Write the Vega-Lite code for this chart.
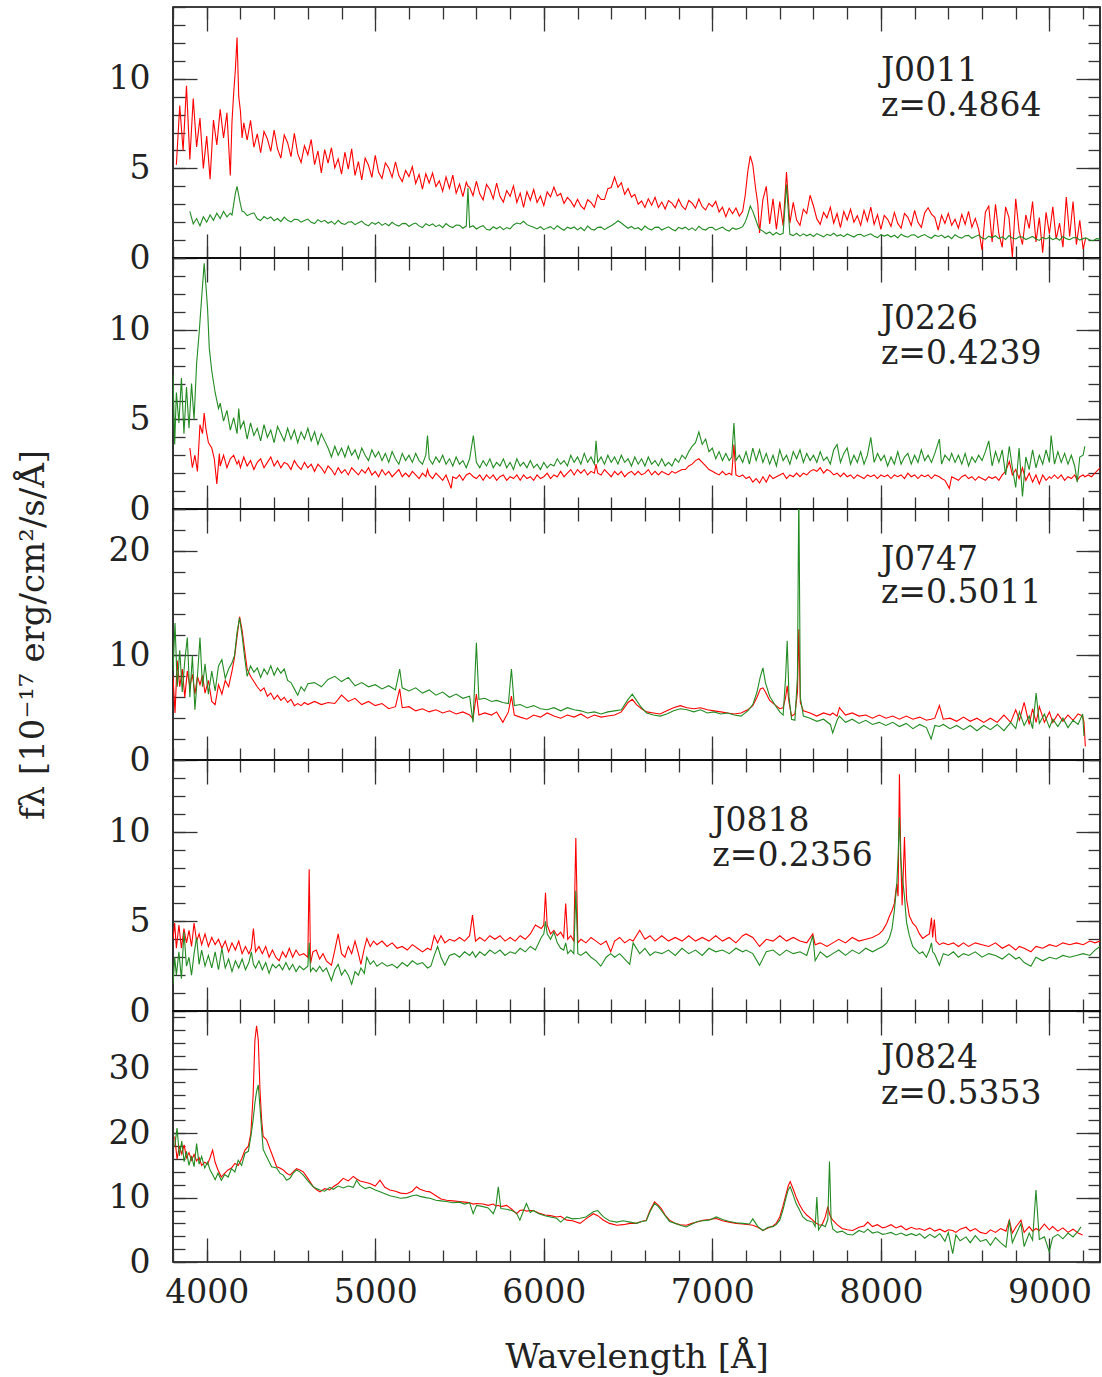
{
"$schema":"https://vega.github.io/schema/vega-lite/v6.json",
"background":"white",
"padding":{"left":15,"top":5,"right":2,"bottom":0},
"bounds":"flush",
"spacing":0,
"config":{
 "view":{"stroke":"#000","strokeWidth":1.6},
 "font":"DejaVu Serif",
 "axis":{"grid":false,"domain":false,"labelFont":"DejaVu Serif","labelFontSize":33,"labelColor":"#222","labelFlush":false,"labelOverlap":false,"tickColor":"#333","tickWidth":1.3,"titleFont":"DejaVu Serif","titleFontWeight":"normal","titleFontSize":34,"titleColor":"#222","format":"d"},
 "text":{"font":"DejaVu Serif","fontSize":33,"color":"#222","align":"left","baseline":"middle","lineHeight":35}
},
"datasets":{
"p1":[
{"w":3820,"r":5.2},{"w":3840,"r":8.5},{"w":3860,"r":6.0},{"w":3880,"r":9.6},{"w":3900,"r":5.5,"g":2.6},{"w":3920,"r":8.9,"g":1.9},{"w":3940,"r":6.2,"g":2.2},{"w":3960,"r":7.8,"g":1.8},{"w":3980,"r":5.0,"g":2.3},{"w":4000,"r":6.8,"g":2.0},{"w":4020,"r":4.4,"g":2.4},{"w":4040,"r":7.7,"g":2.1},{"w":4060,"r":6.3,"g":2.5},{"w":4080,"r":8.3,"g":2.2},{"w":4100,"r":6.7,"g":2.6},{"w":4120,"r":8.1,"g":2.3},{"w":4140,"r":4.6,"g":2.5},{"w":4150,"r":7.6,"g":2.4},{"w":4160,"r":9.2,"g":3.0},{"w":4170,"r":10.5,"g":3.6},{"w":4180,"r":12.3,"g":4.0},{"w":4190,"r":9.0,"g":3.5},{"w":4200,"r":8.2,"g":3.0},{"w":4210,"r":6.7,"g":2.6},
{"w":4220,"r":7.54,"g":2.58},{"w":4240,"r":6.58,"g":2.36},{"w":4260,"r":7.68,"g":2.45},{"w":4280,"r":6.18,"g":2.52},{"w":4300,"r":6.92,"g":2.19},{"w":4320,"r":5.87,"g":2.09},{"w":4340,"r":7.06,"g":2.31},{"w":4360,"r":6.64,"g":2.18},{"w":4380,"r":5.95,"g":2.29},{"w":4400,"r":7.14,"g":2.08},{"w":4420,"r":6.09,"g":2.2},{"w":4440,"r":5.57,"g":2.03},{"w":4460,"r":6.86,"g":2.28},{"w":4480,"r":6.43,"g":2.1},{"w":4500,"r":5.65,"g":2.01},{"w":4520,"r":6.95,"g":2.16},{"w":4540,"r":5.82,"g":2.15},{"w":4560,"r":5.32,"g":2.0},{"w":4580,"r":6.26,"g":2.09},{"w":4600,"r":5.76,"g":2.17},{"w":4620,"r":6.61,"g":1.99},{"w":4640,"r":5.21,"g":1.92},{"w":4660,"r":5.97,"g":2.14},{"w":4680,"r":4.75,"g":2.01},{"w":4700,"r":6.05,"g":2.1},{"w":4720,"r":5.29,"g":1.94},{"w":4740,"r":6.15,"g":2.04},{"w":4760,"r":5.03,"g":1.88},{"w":4780,"r":5.53,"g":2.1},{"w":4800,"r":4.68,"g":1.93},{"w":4820,"r":5.9,"g":1.87},{"w":4840,"r":4.96,"g":2.01},{"w":4860,"r":6.09,"g":2.02},{"w":4880,"r":4.61,"g":1.86},{"w":4900,"r":5.38,"g":1.96},{"w":4920,"r":4.35,"g":2.06},{"w":4940,"r":5.57,"g":1.88},{"w":4960,"r":5.17,"g":1.79},{"w":4980,"r":4.5,"g":1.99},{"w":5000,"r":5.72,"g":1.88},{"w":5020,"r":4.78,"g":2.0},{"w":5040,"r":4.44,"g":1.82},{"w":5060,"r":5.3,"g":1.93},{"w":5080,"r":5.02,"g":1.8},{"w":5100,"r":4.5,"g":1.99},{"w":5120,"r":5.36,"g":1.85},{"w":5140,"r":4.6,"g":1.78},{"w":5160,"r":4.26,"g":1.92},{"w":5180,"r":4.88,"g":1.93},{"w":5200,"r":4.54,"g":1.76},{"w":5220,"r":5.1,"g":1.88},{"w":5240,"r":4.16,"g":1.95},{"w":5260,"r":4.66,"g":1.79},{"w":5280,"r":3.84,"g":1.7},{"w":5300,"r":4.7,"g":1.91},{"w":5320,"r":4.18,"g":1.8},{"w":5340,"r":4.74,"g":1.9},{"w":5360,"r":3.98,"g":1.75},{"w":5380,"r":4.3,"g":1.85},{"w":5400,"r":3.72,"g":1.69},{"w":5420,"r":4.52,"g":1.92},{"w":5440,"r":3.88,"g":1.77},{"w":5460,"r":4.62,"g":1.7},{"w":5480,"r":3.62,"g":1.84},{"w":5500,"r":4.12,"g":1.82},{"w":5520,"r":3.42,"g":1.66},{"w":5540,"r":4.22,"g":1.78},{"w":5550,"r":4.0,"g":3.9},{"w":5560,"r":3.94,"g":1.72},{"w":5580,"r":3.48,"g":1.8},{"w":5600,"r":4.28,"g":1.62},{"w":5620,"r":3.58,"g":1.73},{"w":5640,"r":3.24,"g":1.8},{"w":5660,"r":4.1,"g":1.6},{"w":5680,"r":3.82,"g":1.56},{"w":5700,"r":3.3,"g":1.74},{"w":5720,"r":4.18,"g":1.63},{"w":5740,"r":3.44,"g":1.75},{"w":5760,"r":3.12,"g":1.58},{"w":5780,"r":3.76,"g":1.7},{"w":5800,"r":3.44,"g":1.62},{"w":5820,"r":4.02,"g":1.84},{"w":5840,"r":3.1,"g":1.95},{"w":5860,"r":3.62,"g":1.9},{"w":5880,"r":2.82,"g":2.05},{"w":5900,"r":3.7,"g":1.86},{"w":5920,"r":3.22,"g":1.78},{"w":5940,"r":3.82,"g":1.72},{"w":5960,"r":3.1,"g":1.62},{"w":5980,"r":3.46,"g":1.74},{"w":6000,"r":2.92,"g":1.58},{"w":6020,"r":3.69,"g":1.68},{"w":6040,"r":3.41,"g":1.75},{"w":6060,"r":3.95,"g":1.6},{"w":6080,"r":3.46,"g":1.8},{"w":6100,"r":3.6,"g":1.66},{"w":6120,"r":3.05,"g":1.55},{"w":6140,"r":3.38,"g":1.72},{"w":6160,"r":3.17,"g":1.64},{"w":6180,"r":2.86,"g":1.73},{"w":6200,"r":3.28,"g":1.57},{"w":6220,"r":2.9,"g":1.7},{"w":6240,"r":2.72,"g":1.52},{"w":6260,"r":3.25,"g":1.78},{"w":6280,"r":3.1,"g":1.62},{"w":6300,"r":2.83,"g":1.56},{"w":6320,"r":3.52,"g":1.71},{"w":6340,"r":3.26,"g":1.72},{"w":6360,"r":3.26,"g":1.58},{"w":6380,"r":3.87,"g":1.7},{"w":6400,"r":3.93,"g":1.8},{"w":6420,"r":4.52,"g":1.92},{"w":6440,"r":3.94,"g":2.08},{"w":6460,"r":4.2,"g":1.95},{"w":6480,"r":3.55,"g":1.8},{"w":6500,"r":3.88,"g":1.66},{"w":6520,"r":3.4,"g":1.76},{"w":6540,"r":3.55,"g":1.62},{"w":6560,"r":3.0,"g":1.69},{"w":6580,"r":3.18,"g":1.55},{"w":6600,"r":2.82,"g":1.78},{"w":6620,"r":3.3,"g":1.63},{"w":6640,"r":2.94,"g":1.57},{"w":6660,"r":3.39,"g":1.71},{"w":6680,"r":2.82,"g":1.72},{"w":6700,"r":3.12,"g":1.56},{"w":6720,"r":2.73,"g":1.66},{"w":6740,"r":3.2,"g":1.74},{"w":6760,"r":3.06,"g":1.6},{"w":6780,"r":2.8,"g":1.52},{"w":6800,"r":3.28,"g":1.71},{"w":6820,"r":2.89,"g":1.63},{"w":6840,"r":2.7,"g":1.72},{"w":6860,"r":3.21,"g":1.57},{"w":6880,"r":3.06,"g":1.68},{"w":6900,"r":2.78,"g":1.53},{"w":6920,"r":3.29,"g":1.77},{"w":6940,"r":2.86,"g":1.62},{"w":6960,"r":2.68,"g":1.56},{"w":6980,"r":3.05,"g":1.7},{"w":7000,"r":2.87,"g":1.71},{"w":7020,"r":3.16,"g":1.55},{"w":7040,"r":2.57,"g":1.64},{"w":7060,"r":2.83,"g":1.72},{"w":7080,"r":2.31,"g":1.58},{"w":7100,"r":2.78,"g":1.5},{"w":7120,"r":2.47,"g":1.68},{"w":7140,"r":2.79,"g":1.6},{"w":7160,"r":2.34,"g":1.66},{"w":7180,"r":2.6,"g":1.75},{"w":7195,"r":3.5,"g":2.0},{"w":7210,"r":4.8,"g":2.4},{"w":7225,"r":5.7,"g":2.9},{"w":7240,"r":5.2,"g":2.6},{"w":7255,"r":4.0,"g":2.2},{"w":7270,"r":3.0,"g":1.8},{"w":7280,"r":1.4,"g":1.6},
{"w":7300,"r":3.26,"g":1.5},{"w":7320,"r":4.0,"g":1.35},{"w":7340,"r":1.9,"g":1.45},{"w":7360,"r":3.3,"g":1.28},{"w":7380,"r":1.6,"g":1.42},{"w":7400,"r":3.15,"g":1.3},{"w":7420,"r":1.8,"g":1.38},{"w":7440,"r":4.8,"g":4.1},{"w":7460,"r":1.94,"g":1.32},{"w":7480,"r":3.1,"g":1.25},{"w":7500,"r":2.12,"g":1.38},{"w":7520,"r":1.82,"g":1.22},{"w":7540,"r":2.72,"g":1.35},{"w":7560,"r":2.48,"g":1.24},{"w":7580,"r":3.5,"g":1.33},{"w":7600,"r":2.9,"g":1.2},{"w":7620,"r":2.18,"g":1.36},{"w":7640,"r":1.88,"g":1.27},{"w":7660,"r":2.54,"g":1.18},{"w":7680,"r":2.24,"g":1.32},{"w":7700,"r":2.84,"g":1.25},{"w":7720,"r":1.94,"g":1.38},{"w":7740,"r":2.48,"g":1.22},{"w":7760,"r":1.7,"g":1.3},{"w":7780,"r":2.6,"g":1.19},{"w":7800,"r":2.12,"g":1.34},{"w":7820,"r":2.72,"g":1.26},{"w":7840,"r":2.0,"g":1.17},{"w":7860,"r":2.36,"g":1.3},{"w":7880,"r":1.82,"g":1.32},{"w":7900,"r":2.66,"g":1.2},{"w":7920,"r":2.06,"g":1.28},{"w":7940,"r":2.84,"g":1.35},{"w":7960,"r":1.88,"g":1.21},{"w":7980,"r":2.42,"g":1.14},{"w":8000,"r":1.6,"g":1.3},{"w":8020,"r":2.38,"g":1.22},{"w":8040,"r":2.16,"g":1.3},{"w":8060,"r":1.77,"g":1.17},{"w":8080,"r":2.54,"g":1.27},{"w":8100,"r":1.93,"g":1.12},{"w":8120,"r":1.66,"g":1.33},{"w":8140,"r":2.49,"g":1.22},{"w":8160,"r":2.27,"g":1.16},{"w":8180,"r":1.82,"g":1.28},{"w":8200,"r":2.65,"g":1.29},{"w":8220,"r":1.99,"g":1.14},{"w":8240,"r":1.71,"g":1.24},{"w":8260,"r":2.52,"g":1.31},{"w":8280,"r":2.8,"g":1.18},{"w":8300,"r":2.45,"g":1.1},{"w":8320,"r":2.27,"g":1.27},{"w":8340,"r":1.55,"g":1.2},{"w":8360,"r":2.38,"g":1.28},{"w":8380,"r":1.93,"g":1.13},{"w":8400,"r":2.49,"g":1.23},{"w":8420,"r":1.82,"g":1.08},{"w":8440,"r":2.16,"g":1.3},{"w":8460,"r":1.66,"g":1.17},{"w":8480,"r":2.43,"g":1.11},{"w":8500,"r":1.88,"g":1.24},{"w":8520,"r":2.6,"g":1.26},{"w":8540,"r":1.71,"g":1.1},{"w":8560,"r":2.21,"g":1.2},{"w":8580,"r":1.6,"g":1.28},{"w":8600,"r":0.45,"g":1.12},{"w":8620,"r":2.55,"g":1.05},{"w":8640,"r":2.9,"g":1.22},{"w":8660,"r":0.9,"g":1.14},{"w":8680,"r":3.0,"g":1.24},{"w":8700,"r":1.35,"g":1.08},{"w":8720,"r":0.6,"g":1.18},{"w":8740,"r":2.85,"g":1.03},{"w":8760,"r":2.25,"g":1.25},{"w":8780,"r":0.05,"g":1.11},{"w":8800,"r":3.3,"g":1.06},{"w":8820,"r":1.5,"g":1.18},{"w":8840,"r":0.75,"g":1.17},{"w":8860,"r":2.4,"g":1.03},{"w":8880,"r":1.65,"g":1.12},{"w":8900,"r":3.15,"g":1.2},{"w":8920,"r":0.9,"g":1.06},{"w":8940,"r":2.25,"g":0.98},{"w":8960,"r":0.3,"g":1.15},{"w":8980,"r":2.55,"g":1.06},{"w":9000,"r":1.35,"g":1.16},{"w":9020,"r":2.85,"g":1.02},{"w":9040,"r":1.05,"g":1.12},{"w":9060,"r":1.95,"g":0.99},{"w":9080,"r":0.6,"g":1.2},{"w":9100,"r":3.4,"g":1.08},{"w":9120,"r":1.2,"g":1.02},{"w":9140,"r":3.15,"g":1.13},{"w":9160,"r":0.75,"g":1.14},{"w":9180,"r":2.1,"g":1.0},{"w":9200,"r":0.5,"g":1.08},{"w":9215,"r":1.1,"g":1.12},{"w":9240,"g":1.0},{"w":9260,"g":0.96},{"w":9280,"g":1.08},{"w":9300,"g":1.05}
],
"p2":[
{"w":3800,"g":7.5},{"w":3810,"g":3.6},{"w":3820,"g":6.5},{"w":3835,"g":4.8},{"w":3850,"g":7.3},{"w":3865,"g":4.2},{"w":3880,"g":6.8},{"w":3895,"g":4.5},{"w":3900,"r":3.4},{"w":3910,"g":7.0},{"w":3915,"r":2.3},{"w":3925,"g":5.0},{"w":3930,"r":3.0},{"w":3940,"g":8.1},{"w":3945,"r":2.1},{"w":3955,"g":9.8},{"w":3960,"r":4.7},{"w":3970,"g":11.8},{"w":3975,"r":4.2},{"w":3985,"r":5.35,"g":13.7},{"w":3995,"r":4.5,"g":12.5},{"w":4005,"g":11.2},{"w":4010,"r":3.7},{"w":4015,"g":9.0},{"w":4030,"r":3.4,"g":7.7},{"w":4045,"r":2.8},{"w":4050,"g":6.5},{"w":4060,"r":1.4},{"w":4070,"g":5.6},{"w":4075,"r":3.1},
{"w":4080,"g":5.9,"r":2.4},{"w":4100,"g":4.9,"r":3.0},{"w":4120,"g":5.5,"r":2.3},{"w":4140,"g":4.4,"r":2.8},{"w":4160,"g":5.1,"r":3.0},{"w":4180,"g":4.2,"r":2.5},{"w":4190,"g":5.6,"r":2.7},{"w":4200,"g":4.5,"r":2.3},{"w":4220,"g":4.9,"r":2.9},{"w":4240,"g":3.9,"r":2.4},{"w":4260,"g":4.8,"r":2.7},{"w":4280,"g":4.1,"r":2.2},{"w":4300,"g":4.5,"r":2.6},{"w":4320,"g":3.8,"r":2.8},{"w":4340,"g":4.7,"r":2.3},{"w":4360,"g":4.0,"r":2.6},{"w":4380,"g":4.4,"r":2.9},{"w":4400,"g":3.7,"r":2.4},{"w":4420,"g":4.6,"r":2.7},{"w":4440,"g":4.2,"r":2.3},{"w":4460,"g":3.8,"r":2.6},{"w":4480,"g":4.5,"r":2.5},{"w":4500,"g":3.9,"r":2.2},{"w":4520,"g":4.4,"r":2.7},{"w":4540,"g":3.7,"r":2.4},{"w":4560,"g":4.3,"r":2.2},{"w":4580,"g":3.9,"r":2.6},{"w":4600,"g":4.5,"r":2.3},{"w":4620,"g":3.8,"r":2.5},{"w":4640,"g":4.3,"r":2.1},{"w":4660,"g":3.6,"r":2.5},{"w":4680,"g":4.2,"r":2.3},{"w":4700,"g":3.8,"r":2.0},{"w":4720,"g":3.4,"r":2.4},{"w":4740,"g":2.9,"r":2.2},{"w":4760,"g":3.5,"r":1.9},{"w":4780,"g":3.0,"r":2.3},{"w":4800,"g":3.4,"r":2.0},{"w":4820,"g":2.9,"r":2.2},{"w":4840,"g":3.5,"r":1.9},{"w":4860,"g":3.0,"r":2.3},{"w":4880,"g":3.3,"r":2.1},{"w":4900,"g":2.8,"r":1.9},{"w":4920,"g":3.4,"r":2.2},{"w":4940,"g":3.0,"r":2.0},{"w":4960,"g":2.7,"r":2.3},{"w":4980,"g":3.3,"r":1.9},{"w":5000,"g":2.9,"r":2.1},{"w":5020,"g":3.2,"r":1.8},{"w":5040,"g":2.7,"r":2.2},{"w":5060,"g":3.1,"r":1.9},{"w":5080,"g":2.6,"r":2.1},{"w":5100,"g":3.2,"r":1.8},{"w":5120,"g":2.8,"r":2.0},{"w":5140,"g":2.5,"r":2.2},{"w":5160,"g":3.1,"r":1.8},{"w":5180,"g":2.7,"r":2.0},{"w":5200,"g":3.0,"r":1.8},{"w":5220,"g":2.6,"r":2.1},{"w":5240,"g":3.1,"r":1.9},{"w":5260,"g":2.7,"r":1.7},{"w":5280,"g":2.5,"r":2.0},{"w":5300,"g":3.0,"r":1.8},{"w":5310,"g":4.1,"r":2.2},{"w":5320,"g":2.8,"r":1.9},{"w":5340,"g":2.5,"r":1.7},{"w":5360,"g":2.9,"r":2.0},{"w":5380,"g":2.6,"r":1.8},{"w":5400,"g":3.0,"r":1.6},{"w":5420,"g":2.5,"r":1.9},{"w":5440,"g":2.8,"r":1.4},{"w":5450,"g":2.6,"r":1.15},{"w":5460,"g":2.4,"r":1.8},{"w":5480,"g":2.9,"r":1.7},{"w":5500,"g":2.5,"r":1.9},{"w":5520,"g":2.7,"r":1.6},{"w":5540,"g":2.3,"r":1.9},{"w":5560,"g":2.8,"r":2.0},{"w":5582,"g":4.1,"r":1.8},{"w":5600,"g":2.6,"r":1.7},{"w":5620,"g":2.3,"r":1.9},{"w":5640,"g":2.7,"r":1.6},{"w":5660,"g":2.4,"r":1.9},{"w":5680,"g":2.8,"r":1.7},{"w":5700,"g":2.3,"r":1.9},{"w":5720,"g":2.6,"r":1.6},{"w":5740,"g":2.4,"r":1.8},{"w":5760,"g":2.8,"r":1.9},{"w":5780,"g":2.3,"r":1.6},{"w":5800,"g":2.6,"r":1.8},{"w":5820,"g":2.2,"r":1.7},{"w":5840,"g":2.8,"r":1.9},{"w":5860,"g":2.4,"r":1.6},{"w":5880,"g":2.6,"r":1.9},{"w":5900,"g":2.3,"r":1.7},{"w":5920,"g":2.7,"r":1.8},{"w":5940,"g":2.3,"r":1.6},{"w":5960,"g":2.5,"r":1.9},{"w":5980,"g":2.2,"r":1.7},{"w":6000,"g":2.6,"r":1.8},{"w":6020,"g":2.3,"r":2.0},{"w":6040,"g":2.5,"r":1.7},{"w":6060,"g":2.4,"r":1.9},{"w":6080,"g":2.8,"r":1.8},{"w":6100,"g":2.5,"r":2.1},{"w":6120,"g":2.7,"r":1.8},{"w":6140,"g":2.4,"r":2.0},{"w":6160,"g":3.0,"r":2.2},{"w":6180,"g":2.6,"r":1.9},{"w":6200,"g":2.9,"r":2.2},{"w":6220,"g":2.5,"r":2.0},{"w":6240,"g":3.1,"r":2.2},{"w":6260,"g":2.6,"r":1.9},{"w":6280,"g":2.9,"r":2.1},{"w":6300,"g":2.5,"r":2.0},{"w":6310,"g":3.8,"r":2.5},{"w":6320,"g":2.6,"r":2.0},{"w":6340,"g":2.9,"r":1.9},{"w":6360,"g":2.5,"r":2.2},{"w":6380,"g":3.0,"r":2.0},{"w":6400,"g":2.6,"r":1.8},{"w":6420,"g":2.9,"r":2.1},{"w":6440,"g":2.5,"r":1.9},{"w":6460,"g":3.0,"r":2.1},{"w":6480,"g":2.6,"r":1.8},{"w":6500,"g":2.8,"r":2.0},{"w":6520,"g":2.4,"r":2.1},{"w":6540,"g":2.9,"r":1.9},{"w":6560,"g":2.5,"r":2.1},{"w":6580,"g":2.8,"r":1.9},{"w":6600,"g":2.4,"r":2.0},{"w":6620,"g":2.9,"r":2.2},{"w":6640,"g":2.5,"r":1.9},{"w":6660,"g":2.7,"r":2.1},{"w":6680,"g":2.4,"r":1.9},{"w":6700,"g":2.8,"r":2.1},{"w":6720,"g":2.4,"r":2.0},{"w":6740,"g":2.6,"r":1.9},{"w":6760,"g":2.4,"r":2.1},{"w":6780,"g":2.8,"r":2.0},{"w":6800,"g":2.6,"r":2.1},{"w":6820,"g":3.0,"r":2.2},{"w":6840,"g":2.8,"r":2.2},{"w":6860,"g":3.2,"r":2.4},{"w":6880,"g":3.5,"r":2.5},{"w":6900,"g":3.7,"r":2.7},{"w":6920,"g":4.3,"r":2.8},{"w":6940,"g":3.6,"r":2.6},{"w":6960,"g":3.9,"r":2.4},{"w":6980,"g":3.2,"r":2.2},{"w":7000,"g":3.4,"r":2.1},{"w":7020,"g":2.8,"r":2.0},{"w":7040,"g":3.2,"r":1.9},{"w":7060,"g":2.7,"r":2.1},{"w":7080,"g":3.1,"r":1.9},{"w":7100,"g":2.7,"r":2.0},{"w":7115,"g":2.9,"r":1.9},{"w":7128,"g":4.8,"r":3.6},{"w":7140,"g":2.7,"r":1.9},{"w":7160,"g":3.0,"r":1.8},{"w":7180,"g":2.6,"r":1.9},{"w":7200,"g":3.2,"r":1.7},{"w":7220,"g":2.5,"r":1.8},{"w":7240,"g":3.4,"r":1.5},{"w":7260,"g":2.7,"r":1.7},{"w":7280,"g":3.3,"r":1.45},{"w":7300,"g":2.6,"r":1.8},{"w":7320,"g":3.1,"r":1.5},{"w":7340,"g":2.5,"r":1.9},{"w":7360,"g":3.0,"r":1.7},{"w":7380,"g":2.4,"r":1.8},{"w":7400,"g":3.3,"r":1.9},{"w":7420,"g":2.7,"r":2.0},{"w":7440,"g":3.0,"r":1.7},{"w":7460,"g":2.5,"r":1.9},{"w":7480,"g":3.2,"r":1.8},{"w":7500,"g":2.8,"r":2.0},{"w":7520,"g":3.3,"r":1.8},{"w":7540,"g":2.6,"r":2.0},{"w":7560,"g":3.1,"r":1.9},{"w":7580,"g":2.7,"r":2.1},{"w":7600,"g":3.0,"r":2.2},{"w":7620,"g":2.6,"r":2.1},{"w":7640,"g":3.2,"r":2.3},{"w":7660,"g":2.7,"r":2.0},{"w":7680,"g":2.9,"r":2.2},{"w":7700,"g":2.5,"r":2.1},{"w":7720,"g":3.3,"r":1.9},{"w":7740,"g":3.6,"r":2.0},{"w":7760,"g":2.6,"r":1.8},{"w":7780,"g":3.1,"r":2.0},{"w":7800,"g":3.4,"r":1.8},{"w":7820,"g":2.5,"r":1.9},{"w":7840,"g":3.0,"r":1.7},{"w":7860,"g":2.6,"r":1.9},{"w":7880,"g":3.2,"r":1.8},{"w":7900,"g":2.5,"r":1.7},{"w":7920,"g":3.0,"r":1.9},{"w":7940,"g":4.0,"r":1.8},{"w":7960,"g":2.6,"r":1.9},{"w":7980,"g":3.1,"r":1.7},{"w":8000,"g":2.7,"r":1.9},{"w":8020,"g":3.0,"r":1.8},{"w":8040,"g":2.4,"r":1.9},{"w":8060,"g":2.9,"r":1.7},{"w":8080,"g":2.5,"r":1.9},{"w":8100,"g":3.2,"r":1.8},{"w":8120,"g":2.5,"r":1.9},{"w":8140,"g":2.9,"r":1.7},{"w":8160,"g":3.1,"r":2.0},{"w":8180,"g":2.5,"r":1.8},{"w":8200,"g":3.0,"r":1.9},{"w":8220,"g":2.6,"r":1.7},{"w":8240,"g":3.3,"r":1.9},{"w":8260,"g":2.7,"r":1.8},{"w":8280,"g":3.0,"r":1.9},{"w":8300,"g":2.6,"r":1.7},{"w":8320,"g":3.1,"r":1.9},{"w":8347,"g":3.9,"r":1.8},{"w":8360,"g":2.5,"r":1.7},{"w":8380,"g":3.0,"r":1.6},{"w":8406,"g":2.7,"r":1.15},{"w":8420,"g":3.1,"r":1.8},{"w":8440,"g":2.6,"r":1.7},{"w":8460,"g":3.0,"r":1.6},{"w":8480,"g":2.5,"r":1.8},{"w":8500,"g":3.1,"r":1.9},{"w":8520,"g":2.4,"r":1.7},{"w":8540,"g":2.9,"r":1.8},{"w":8560,"g":2.6,"r":1.6},{"w":8580,"g":3.0,"r":1.8},{"w":8600,"g":2.7,"r":1.7},{"w":8620,"g":3.2,"r":1.6},{"w":8640,"g":3.8,"r":1.8},{"w":8660,"g":2.4,"r":1.7},{"w":8680,"g":3.2,"r":1.8},{"w":8700,"g":2.6,"r":1.6},{"w":8720,"g":3.3,"r":1.9},{"w":8740,"g":1.9,"r":2.1},{"w":8762,"g":3.5,"r":2.65},{"w":8780,"g":2.3,"r":1.9},{"w":8800,"g":1.2,"r":2.2},{"w":8820,"g":3.4,"r":1.7},{"w":8840,"g":0.7,"r":2.3},{"w":8860,"g":2.9,"r":1.6},{"w":8880,"g":2.2,"r":2.0},{"w":8900,"g":3.3,"r":1.5},{"w":8920,"g":2.3,"r":1.9},{"w":8940,"g":3.0,"r":1.4},{"w":8960,"g":2.5,"r":1.9},{"w":8980,"g":3.3,"r":1.6},{"w":9000,"g":2.6,"r":1.8},{"w":9010,"g":4.1,"r":1.7},{"w":9030,"g":2.5,"r":1.9},{"w":9050,"g":3.2,"r":1.7},{"w":9070,"g":2.6,"r":1.9},{"w":9090,"g":3.1,"r":1.6},{"w":9110,"g":2.5,"r":1.8},{"w":9130,"g":3.0,"r":1.7},{"w":9150,"g":2.4,"r":1.9},{"w":9165,"g":1.5,"r":1.6},{"w":9180,"g":2.9,"r":1.8},{"w":9200,"g":3.0,"r":1.9},{"w":9210,"g":3.5,"r":1.8},{"w":9230,"r":1.9},{"w":9250,"r":1.8},{"w":9270,"r":2.0},{"w":9300,"r":2.3}
],
"p3":[
{"w":3800,"r":8.0,"g":8.5},{"w":3812,"r":4.5,"g":13.1},{"w":3825,"r":9.5,"g":7.0},{"w":3840,"r":7.0,"g":10.5},{"w":3855,"r":8.7,"g":6.5},{"w":3870,"r":6.0,"g":9.5},{"w":3885,"r":8.5,"g":11.7},{"w":3900,"r":7.0,"g":6.0},{"w":3915,"r":8.2,"g":10.0},{"w":3930,"r":6.3,"g":4.8},{"w":3945,"r":8.0,"g":8.0},{"w":3960,"r":7.2,"g":11.7},{"w":3975,"r":8.1,"g":7.0},{"w":3990,"r":6.4,"g":9.2},{"w":4010,"r":7.6,"g":6.3},{"w":4030,"r":5.6,"g":8.5},{"w":4050,"r":5.3,"g":6.6},{"w":4070,"r":7.2,"g":9.0},{"w":4090,"r":6.3,"g":9.6},{"w":4110,"r":7.6,"g":7.8},{"w":4130,"r":7.0,"g":8.7},{"w":4150,"r":8.5,"g":9.3},{"w":4165,"r":9.8,"g":10.0},{"w":4180,"r":11.8,"g":12.2},{"w":4195,"r":13.7,"g":13.6},{"w":4210,"r":12.4,"g":11.9},{"w":4225,"r":10.5,"g":9.8},{"w":4240,"r":8.7,"g":8.0},{"w":4260,"r":8.0,"g":9.0},{"w":4280,"r":7.5,"g":8.4},{"w":4300,"r":7.0,"g":8.8},{"w":4320,"r":6.6,"g":7.9},{"w":4340,"r":6.9,"g":8.7},{"w":4360,"r":6.1,"g":8.2},{"w":4380,"r":6.4,"g":9.0},{"w":4400,"r":5.8,"g":8.1},{"w":4420,"r":6.2,"g":8.8},{"w":4440,"r":5.7,"g":8.3},{"w":4460,"r":6.0,"g":8.7},{"w":4480,"r":5.5,"g":7.6},{"w":4500,"r":5.8,"g":7.4},{"w":4520,"r":5.2,"g":6.8},{"w":4540,"r":5.4,"g":6.2},{"w":4560,"r":5.2,"g":7.0},{"w":4580,"r":5.5,"g":6.6},{"w":4600,"r":5.3,"g":7.3},{"w":4640,"r":5.6,"g":7.4},{"w":4680,"r":5.3,"g":7.0},{"w":4720,"r":5.5,"g":7.7},{"w":4760,"r":5.4,"g":8.0},{"w":4800,"r":6.2,"g":7.5},{"w":4840,"r":5.6,"g":7.9},{"w":4880,"r":5.9,"g":7.1},{"w":4920,"r":5.3,"g":7.4},{"w":4960,"r":5.6,"g":7.0},{"w":5000,"r":5.2,"g":7.2},{"w":5040,"r":5.4,"g":6.8},{"w":5080,"r":4.9,"g":7.1},{"w":5120,"r":5.1,"g":6.7},{"w":5145,"r":6.8,"g":8.7},{"w":5160,"r":5.0,"g":6.9},{"w":5200,"r":5.1,"g":6.6},{"w":5240,"r":4.7,"g":6.9},{"w":5280,"r":4.9,"g":6.4},{"w":5320,"r":4.6,"g":6.7},{"w":5360,"r":4.8,"g":6.2},{"w":5400,"r":4.5,"g":6.5},{"w":5440,"r":4.7,"g":6.0},{"w":5480,"r":4.4,"g":6.3},{"w":5520,"r":4.6,"g":5.9},{"w":5560,"r":4.3,"g":6.1},{"w":5580,"r":3.9,"g":3.6},{"w":5600,"r":6.3,"g":11.2},{"w":5615,"r":4.3,"g":5.8},{"w":5650,"r":4.5,"g":5.9},{"w":5690,"r":4.3,"g":5.6},{"w":5720,"r":4.6,"g":5.7},{"w":5757,"r":3.6,"g":5.5},{"w":5790,"r":4.6,"g":5.4},{"w":5808,"r":6.1,"g":8.7},{"w":5825,"r":4.3,"g":5.2},{"w":5860,"r":4.1,"g":5.3},{"w":5900,"r":3.9,"g":5.0},{"w":5940,"r":4.3,"g":5.2},{"w":5980,"r":4.1,"g":4.9},{"w":6020,"r":4.5,"g":4.8},{"w":6060,"r":4.2,"g":5.0},{"w":6100,"r":4.0,"g":4.7},{"w":6140,"r":4.3,"g":5.0},{"w":6180,"r":4.1,"g":4.8},{"w":6220,"r":4.4,"g":4.7},{"w":6260,"r":4.0,"g":4.5},{"w":6300,"r":4.3,"g":4.6},{"w":6340,"r":4.1,"g":4.4},{"w":6380,"r":4.2,"g":4.6},{"w":6420,"r":4.3,"g":4.7},{"w":6460,"r":4.6,"g":4.8},{"w":6500,"r":5.5,"g":5.8},{"w":6525,"r":5.8,"g":6.3},{"w":6550,"r":5.3,"g":5.7},{"w":6580,"r":4.9,"g":5.0},{"w":6610,"r":4.6,"g":4.5},{"w":6650,"r":4.5,"g":4.3},{"w":6690,"r":4.4,"g":4.2},{"w":6730,"r":4.7,"g":4.4},{"w":6770,"r":5.0,"g":4.7},{"w":6810,"r":5.2,"g":4.9},{"w":6850,"r":5.0,"g":4.8},{"w":6890,"r":4.9,"g":4.6},{"w":6930,"r":5.0,"g":4.8},{"w":6970,"r":4.8,"g":4.5},{"w":7010,"r":4.7,"g":4.6},{"w":7050,"r":4.6,"g":4.4},{"w":7090,"r":4.5,"g":4.5},{"w":7130,"r":4.4,"g":4.3},{"w":7170,"r":4.5,"g":4.2},{"w":7210,"r":4.8,"g":4.7},{"w":7240,"r":5.2,"g":5.3},{"w":7265,"r":6.0,"g":6.5},{"w":7285,"r":6.8,"g":8.0},{"w":7300,"r":6.9,"g":8.8},{"w":7315,"r":6.5,"g":7.4},{"w":7340,"r":5.7,"g":6.1},{"w":7370,"r":5.3,"g":5.3},{"w":7400,"r":4.9,"g":4.6},{"w":7420,"r":5.0,"g":4.3},{"w":7435,"r":6.0,"g":8.0},{"w":7444,"r":7.1,"g":11.4},{"w":7455,"r":5.5,"g":6.0},{"w":7470,"r":4.2,"g":3.9},{"w":7490,"r":4.4,"g":3.8},{"w":7505,"r":6.5,"g":8.0},{"w":7513,"r":12.5,"g":26.0},{"w":7522,"r":5.5,"g":6.0},{"w":7540,"r":4.7,"g":4.2},{"w":7580,"r":4.5,"g":4.0},{"w":7620,"r":4.2,"g":3.7},{"w":7660,"r":4.5,"g":3.9},{"w":7700,"r":4.3,"g":3.4},{"w":7714,"r":4.5,"g":2.6},{"w":7740,"r":4.2,"g":3.8},{"w":7754,"r":5.0,"g":4.2},{"w":7790,"r":4.3,"g":3.6},{"w":7830,"r":4.5,"g":3.9},{"w":7870,"r":4.2,"g":3.5},{"w":7910,"r":4.3,"g":3.8},{"w":7950,"r":4.0,"g":3.4},{"w":7990,"r":4.3,"g":3.6},{"w":8030,"r":4.0,"g":3.3},{"w":8070,"r":4.2,"g":3.6},{"w":8110,"r":3.9,"g":3.2},{"w":8150,"r":4.2,"g":3.5},{"w":8190,"r":3.9,"g":3.0},{"w":8230,"r":4.1,"g":3.4},{"w":8270,"r":3.8,"g":3.1},{"w":8298,"r":3.9,"g":2.0},{"w":8320,"r":4.0,"g":3.3},{"w":8347,"r":5.2,"g":3.2},{"w":8370,"r":3.9,"g":3.4},{"w":8410,"r":4.0,"g":3.0},{"w":8450,"r":3.7,"g":3.3},{"w":8490,"r":4.1,"g":2.9},{"w":8530,"r":3.7,"g":3.3},{"w":8570,"r":4.0,"g":2.8},{"w":8610,"r":3.6,"g":3.3},{"w":8650,"r":4.0,"g":2.9},{"w":8690,"r":3.6,"g":3.4},{"w":8730,"r":4.3,"g":2.8},{"w":8770,"r":3.6,"g":3.6},{"w":8800,"r":4.8,"g":3.0},{"w":8822,"r":3.8,"g":4.6},{"w":8850,"r":5.5,"g":3.3},{"w":8880,"r":3.4,"g":4.2},{"w":8900,"r":4.9,"g":3.0},{"w":8921,"r":3.6,"g":6.4},{"w":8940,"r":5.1,"g":3.5},{"w":8970,"r":3.6,"g":4.4},{"w":9000,"r":4.6,"g":3.1},{"w":9020,"r":3.6,"g":3.9},{"w":9050,"r":4.4,"g":3.2},{"w":9080,"r":3.7,"g":4.0},{"w":9110,"r":4.3,"g":3.1},{"w":9140,"r":3.8,"g":3.8},{"w":9170,"r":4.4,"g":3.4},{"w":9197,"r":4.2,"g":4.4},{"w":9205,"r":3.6,"g":2.3},{"w":9213,"r":1.3}
],
"p4":[
{"w":3800,"r":4.0,"g":1.5},{"w":3810,"r":4.9,"g":3.0},{"w":3820,"r":3.5,"g":2.0},{"w":3835,"r":4.8,"g":3.3},{"w":3850,"r":3.5,"g":1.8},{"w":3865,"r":4.6,"g":4.4},{"w":3880,"r":3.8,"g":2.5},{"w":3895,"r":4.5,"g":3.0},{"w":3910,"r":3.6,"g":2.0},{"w":3925,"r":4.9,"g":3.2},{"w":3940,"r":3.9,"g":4.1},{"w":3955,"r":4.3,"g":2.6},{"w":3970,"r":3.7,"g":3.4},{"w":3990,"r":4.3,"g":2.5},{"w":4010,"r":3.6,"g":3.1},{"w":4030,"r":4.1,"g":2.4},{"w":4050,"r":3.7,"g":3.3},{"w":4070,"r":4.0,"g":2.3},{"w":4090,"r":3.5,"g":3.5},{"w":4110,"r":3.9,"g":2.4},{"w":4130,"r":3.3,"g":2.9},{"w":4150,"r":3.8,"g":2.2},{"w":4170,"r":3.4,"g":2.8},{"w":4190,"r":3.9,"g":2.4},{"w":4210,"r":3.2,"g":2.9},{"w":4230,"r":3.6,"g":2.3},{"w":4250,"r":3.2,"g":2.7},{"w":4265,"r":3.5,"g":3.3},{"w":4277,"r":4.6,"g":2.6},{"w":4290,"r":3.3,"g":2.4},{"w":4310,"r":3.6,"g":2.8},{"w":4330,"r":3.2,"g":2.3},{"w":4350,"r":3.6,"g":2.7},{"w":4370,"r":3.0,"g":2.1},{"w":4390,"r":3.4,"g":2.6},{"w":4410,"r":3.0,"g":2.4},{"w":4430,"r":2.8,"g":2.6},{"w":4450,"r":3.3,"g":2.3},{"w":4470,"r":3.0,"g":2.7},{"w":4490,"r":3.5,"g":2.3},{"w":4510,"r":3.0,"g":2.6},{"w":4530,"r":3.4,"g":2.2},{"w":4550,"r":3.1,"g":2.5},{"w":4575,"r":3.2,"g":2.3},{"w":4600,"r":3.0,"g":2.5},{"w":4608,"r":7.9,"g":3.8},{"w":4616,"r":2.65,"g":2.2},{"w":4630,"r":3.3,"g":2.4},{"w":4650,"r":3.4,"g":2.2},{"w":4670,"r":2.9,"g":2.5},{"w":4690,"r":3.2,"g":2.2},{"w":4710,"r":2.8,"g":2.4},{"w":4740,"r":2.55,"g":1.7},{"w":4760,"r":3.4,"g":2.3},{"w":4780,"r":4.3,"g":2.6},{"w":4800,"r":3.2,"g":2.0},{"w":4820,"r":3.0,"g":2.3},{"w":4840,"r":3.6,"g":2.0},{"w":4860,"r":3.2,"g":1.5},{"w":4880,"r":3.9,"g":2.2},{"w":4900,"r":3.2,"g":2.0},{"w":4915,"r":2.6,"g":2.4},{"w":4935,"r":3.5,"g":2.1},{"w":4950,"r":4.05,"g":3.0},{"w":4970,"r":3.6,"g":2.6},{"w":4990,"r":3.9,"g":2.8},{"w":5010,"r":3.7,"g":2.5},{"w":5040,"r":3.9,"g":2.7},{"w":5070,"r":3.6,"g":2.5},{"w":5100,"r":3.8,"g":2.6},{"w":5130,"r":3.5,"g":2.4},{"w":5160,"r":3.6,"g":2.7},{"w":5190,"r":3.4,"g":2.5},{"w":5220,"r":3.7,"g":2.8},{"w":5250,"r":3.5,"g":2.6},{"w":5280,"r":3.3,"g":2.7},{"w":5310,"r":3.5,"g":2.4},{"w":5330,"r":3.4,"g":2.5},{"w":5350,"r":4.2,"g":3.1},{"w":5370,"r":3.8,"g":3.6},{"w":5390,"r":4.2,"g":3.0},{"w":5413,"r":3.8,"g":2.55},{"w":5440,"r":4.0,"g":3.1},{"w":5470,"r":3.9,"g":3.2},{"w":5500,"r":4.1,"g":3.0},{"w":5530,"r":3.9,"g":3.3},{"w":5560,"r":4.2,"g":3.1},{"w":5577,"r":5.35,"g":3.3},{"w":5595,"r":3.9,"g":3.0},{"w":5620,"r":4.1,"g":3.3},{"w":5650,"r":3.9,"g":3.1},{"w":5680,"r":4.2,"g":3.4},{"w":5710,"r":4.0,"g":3.2},{"w":5740,"r":4.2,"g":3.4},{"w":5770,"r":3.9,"g":3.1},{"w":5800,"r":4.1,"g":3.3},{"w":5830,"r":3.9,"g":3.2},{"w":5860,"r":4.2,"g":3.5},{"w":5890,"r":4.0,"g":3.3},{"w":5920,"r":4.3,"g":3.6},{"w":5950,"r":4.8,"g":3.4},{"w":5985,"r":4.6,"g":4.1},{"w":6000,"r":4.8,"g":4.3},{"w":6010,"r":6.6,"g":5.0},{"w":6020,"r":4.8,"g":4.3},{"w":6040,"r":4.3,"g":4.0},{"w":6060,"r":4.5,"g":4.4},{"w":6080,"r":4.2,"g":3.8},{"w":6100,"r":4.4,"g":3.5},{"w":6118,"r":4.1,"g":3.4},{"w":6130,"r":6.0,"g":3.8},{"w":6142,"r":4.0,"g":3.2},{"w":6160,"r":4.2,"g":3.4},{"w":6178,"r":3.9,"g":3.2},{"w":6190,"r":9.65,"g":6.7},{"w":6202,"r":3.8,"g":3.2},{"w":6220,"r":4.0,"g":3.1},{"w":6250,"r":3.8,"g":3.3},{"w":6280,"r":4.1,"g":3.0},{"w":6310,"r":3.9,"g":2.8},{"w":6338,"r":3.7,"g":2.5},{"w":6370,"r":3.9,"g":3.0},{"w":6397,"r":3.3,"g":3.2},{"w":6420,"r":3.9,"g":3.0},{"w":6450,"r":4.1,"g":3.2},{"w":6480,"r":3.8,"g":2.9},{"w":6510,"r":4.0,"g":2.6},{"w":6530,"r":3.9,"g":3.8},{"w":6569,"r":4.5,"g":3.2},{"w":6600,"r":4.0,"g":3.5},{"w":6630,"r":4.2,"g":3.1},{"w":6660,"r":3.9,"g":3.3},{"w":6700,"r":4.2,"g":3.2},{"w":6740,"r":3.9,"g":3.4},{"w":6780,"r":4.1,"g":3.1},{"w":6820,"r":3.9,"g":3.5},{"w":6860,"r":4.2,"g":3.2},{"w":6900,"r":3.9,"g":3.4},{"w":6940,"r":4.1,"g":3.1},{"w":6980,"r":3.9,"g":3.5},{"w":7020,"r":4.2,"g":3.3},{"w":7060,"r":3.9,"g":3.4},{"w":7100,"r":4.1,"g":3.2},{"w":7140,"r":3.8,"g":3.5},{"w":7180,"r":4.2,"g":3.3},{"w":7200,"r":4.3,"g":3.4},{"w":7240,"r":4.1,"g":3.2},{"w":7280,"r":3.6,"g":2.55},{"w":7320,"r":4.0,"g":3.3},{"w":7360,"r":3.9,"g":3.4},{"w":7400,"r":4.2,"g":3.1},{"w":7440,"r":3.9,"g":3.4},{"w":7480,"r":4.1,"g":3.2},{"w":7520,"r":3.9,"g":3.3},{"w":7560,"r":3.8,"g":3.1},{"w":7596,"r":4.3,"g":4.2},{"w":7610,"r":3.7,"g":2.8},{"w":7640,"r":3.8,"g":3.3},{"w":7680,"r":3.6,"g":3.0},{"w":7715,"r":3.8,"g":3.2},{"w":7750,"r":4.0,"g":3.4},{"w":7790,"r":3.8,"g":3.1},{"w":7830,"r":4.1,"g":3.4},{"w":7870,"r":3.9,"g":3.2},{"w":7910,"r":4.0,"g":3.5},{"w":7950,"r":4.1,"g":3.3},{"w":7990,"r":4.3,"g":3.5},{"w":8011,"r":4.5,"g":3.6},{"w":8035,"r":4.9,"g":3.8},{"w":8051,"r":5.3,"g":4.1},{"w":8066,"r":5.6,"g":4.6},{"w":8080,"r":6.0,"g":5.6},{"w":8094,"r":7.1,"g":7.0},{"w":8102,"r":6.4,"g":8.6},{"w":8110,"r":13.2,"g":10.8},{"w":8118,"r":8.6,"g":8.5},{"w":8126,"r":5.9,"g":7.5},{"w":8134,"r":8.0,"g":6.9},{"w":8140,"r":9.7,"g":6.4},{"w":8147,"r":7.5,"g":5.5},{"w":8153,"r":6.2,"g":4.9},{"w":8169,"r":5.3,"g":4.2},{"w":8189,"r":4.9,"g":3.6},{"w":8209,"r":4.7,"g":3.4},{"w":8229,"r":4.3,"g":3.2},{"w":8248,"r":4.05,"g":3.3},{"w":8270,"r":4.2,"g":3.0},{"w":8288,"r":4.3,"g":3.4},{"w":8300,"r":5.2,"g":3.8},{"w":8307,"r":4.1,"g":3.3},{"w":8317,"r":5.1,"g":3.2},{"w":8327,"r":3.9,"g":3.0},{"w":8347,"r":3.7,"g":2.55},{"w":8370,"r":3.8,"g":3.2},{"w":8400,"r":3.7,"g":3.1},{"w":8430,"r":3.8,"g":3.3},{"w":8460,"r":3.6,"g":3.0},{"w":8490,"r":3.8,"g":3.2},{"w":8520,"r":3.6,"g":3.1},{"w":8560,"r":3.8,"g":3.3},{"w":8600,"r":3.7,"g":3.0},{"w":8640,"r":3.6,"g":3.2},{"w":8680,"r":3.8,"g":3.1},{"w":8720,"r":3.5,"g":2.9},{"w":8760,"r":3.7,"g":3.2},{"w":8800,"r":3.4,"g":2.9},{"w":8821,"r":3.6,"g":3.0},{"w":8850,"r":3.5,"g":2.7},{"w":8890,"r":3.3,"g":2.5},{"w":8920,"r":3.6,"g":3.0},{"w":8960,"r":3.5,"g":2.8},{"w":9000,"r":3.7,"g":3.0},{"w":9040,"r":3.6,"g":2.9},{"w":9080,"r":3.8,"g":3.1},{"w":9120,"r":3.7,"g":3.0},{"w":9160,"r":3.8,"g":3.1},{"w":9200,"r":3.7,"g":3.2},{"w":9240,"r":3.9,"g":3.1},{"w":9270,"r":3.8,"g":3.4},{"w":9300,"r":3.9,"g":3.6}
],
"p5":[
{"w":3810,"r":19.5,"g":17.9},{"w":3824,"r":16.0,"g":20.8},{"w":3838,"r":18.0,"g":16.5},{"w":3852,"r":16.8,"g":18.8},{"w":3866,"r":18.2,"g":15.6},{"w":3880,"r":16.2,"g":17.2},{"w":3895,"r":17.0,"g":15.0},{"w":3910,"r":15.8,"g":16.5},{"w":3925,"r":16.7,"g":14.8},{"w":3940,"r":15.7,"g":18.4},{"w":3955,"r":16.2,"g":15.2},{"w":3970,"r":15.0,"g":16.4},{"w":3988,"r":15.5,"g":14.6},{"w":4005,"r":15.2,"g":15.5},{"w":4020,"r":16.2,"g":14.3},{"w":4035,"r":17.4,"g":13.6},{"w":4050,"r":15.5,"g":12.8},{"w":4067,"r":14.3,"g":13.8},{"w":4087,"r":13.2,"g":12.7},{"w":4107,"r":13.8,"g":13.6},{"w":4127,"r":14.3,"g":13.2},{"w":4147,"r":14.6,"g":14.5},{"w":4167,"r":15.3,"g":14.0},{"w":4187,"r":15.0,"g":15.8},{"w":4207,"r":16.0,"g":15.0},{"w":4227,"r":17.4,"g":16.9},{"w":4247,"r":18.0,"g":17.2},{"w":4262,"r":20.0,"g":19.5},{"w":4275,"r":25.7,"g":22.0},{"w":4286,"r":34.5,"g":24.7},{"w":4296,"r":36.7,"g":26.5},{"w":4306,"r":34.5,"g":27.5},{"w":4316,"r":26.8,"g":24.0},{"w":4326,"r":22.0,"g":20.5},{"w":4335,"r":19.5,"g":17.5},{"w":4355,"r":19.0,"g":16.4},{"w":4385,"r":16.9,"g":14.8},{"w":4415,"r":14.8,"g":14.6},{"w":4434,"r":14.6,"g":13.8},{"w":4454,"r":14.3,"g":13.5},{"w":4474,"r":13.8,"g":12.7},{"w":4494,"r":13.5,"g":13.0},{"w":4513,"r":14.0,"g":13.8},{"w":4533,"r":14.5,"g":14.3},{"w":4553,"r":14.3,"g":14.0},{"w":4573,"r":14.0,"g":13.5},{"w":4600,"r":13.0,"g":12.6},{"w":4632,"r":11.7,"g":11.7},{"w":4652,"r":11.2,"g":11.4},{"w":4672,"r":10.9,"g":11.2},{"w":4700,"r":11.4,"g":11.0},{"w":4730,"r":11.2,"g":11.6},{"w":4751,"r":11.7,"g":11.3},{"w":4780,"r":12.2,"g":11.8},{"w":4810,"r":13.0,"g":11.5},{"w":4840,"r":12.6,"g":11.8},{"w":4870,"r":13.3,"g":11.6},{"w":4889,"r":12.9,"g":12.7},{"w":4910,"r":12.6,"g":11.9},{"w":4940,"r":12.4,"g":11.4},{"w":4968,"r":12.2,"g":11.6},{"w":5000,"r":11.8,"g":11.2},{"w":5028,"r":12.7,"g":10.9},{"w":5057,"r":11.6,"g":10.6},{"w":5087,"r":11.2,"g":10.3},{"w":5120,"r":11.0,"g":10.1},{"w":5150,"r":10.7,"g":9.9},{"w":5186,"r":10.6,"g":10.0},{"w":5220,"r":11.0,"g":10.3},{"w":5245,"r":11.7,"g":10.4},{"w":5265,"r":11.3,"g":10.2},{"w":5300,"r":11.0,"g":10.0},{"w":5324,"r":10.9,"g":9.9},{"w":5360,"r":10.3,"g":9.6},{"w":5390,"r":9.8,"g":9.5},{"w":5423,"r":9.6,"g":9.4},{"w":5460,"r":9.5,"g":9.2},{"w":5500,"r":9.4,"g":9.3},{"w":5530,"r":9.3,"g":9.0},{"w":5560,"r":9.2,"g":9.2},{"w":5581,"r":9.0,"g":7.5},{"w":5601,"r":9.1,"g":8.8},{"w":5640,"r":9.0,"g":8.6},{"w":5670,"r":8.8,"g":8.4},{"w":5700,"r":9.0,"g":7.5},{"w":5715,"r":8.7,"g":8.5},{"w":5730,"r":8.8,"g":11.7},{"w":5745,"r":8.6,"g":8.3},{"w":5779,"r":8.8,"g":8.2},{"w":5810,"r":8.2,"g":8.0},{"w":5838,"r":7.5,"g":7.6},{"w":5858,"r":8.0,"g":6.5},{"w":5880,"r":8.1,"g":8.0},{"w":5897,"r":7.9,"g":9.1},{"w":5920,"r":8.0,"g":7.7},{"w":5937,"r":8.0,"g":8.0},{"w":5970,"r":7.6,"g":7.5},{"w":6007,"r":7.3,"g":7.2},{"w":6040,"r":7.2,"g":7.0},{"w":6076,"r":7.0,"g":6.8},{"w":6100,"r":7.1,"g":6.2},{"w":6136,"r":6.5,"g":7.0},{"w":6170,"r":6.4,"g":6.7},{"w":6215,"r":6.0,"g":6.8},{"w":6250,"r":6.7,"g":7.0},{"w":6294,"r":7.5,"g":7.8},{"w":6320,"r":7.2,"g":8.0},{"w":6354,"r":6.5,"g":7.0},{"w":6390,"r":6.0,"g":6.4},{"w":6433,"r":5.7,"g":6.2},{"w":6470,"r":5.8,"g":6.4},{"w":6512,"r":6.0,"g":6.2},{"w":6549,"r":6.0,"g":6.0},{"w":6580,"r":6.3,"g":6.3},{"w":6608,"r":6.5,"g":6.4},{"w":6630,"r":8.0,"g":7.8},{"w":6657,"r":9.35,"g":9.1},{"w":6680,"r":8.8,"g":8.6},{"w":6697,"r":8.3,"g":8.0},{"w":6720,"r":7.3,"g":7.2},{"w":6746,"r":6.5,"g":6.3},{"w":6780,"r":6.0,"g":6.0},{"w":6810,"r":5.8,"g":5.7},{"w":6845,"r":5.7,"g":5.45},{"w":6880,"r":6.0,"g":5.9},{"w":6910,"r":6.2,"g":6.3},{"w":6944,"r":6.5,"g":6.4},{"w":6980,"r":6.6,"g":6.5},{"w":7023,"r":6.75,"g":7.0},{"w":7060,"r":6.4,"g":6.6},{"w":7100,"r":6.2,"g":6.3},{"w":7142,"r":6.0,"g":6.1},{"w":7180,"r":5.9,"g":6.0},{"w":7220,"r":5.8,"g":5.9},{"w":7240,"r":5.7,"g":6.7},{"w":7270,"r":5.4,"g":5.5},{"w":7300,"r":4.9,"g":4.9},{"w":7330,"r":5.3,"g":5.4},{"w":7360,"r":5.6,"g":5.5},{"w":7379,"r":6.0,"g":5.8},{"w":7400,"r":7.0,"g":6.5},{"w":7418,"r":8.6,"g":8.0},{"w":7438,"r":10.6,"g":10.1},{"w":7450,"r":11.8,"g":11.2},{"w":7462,"r":12.5,"g":11.7},{"w":7480,"r":11.3,"g":10.4},{"w":7497,"r":10.1,"g":9.1},{"w":7515,"r":9.0,"g":8.2},{"w":7537,"r":8.0,"g":7.0},{"w":7560,"r":7.3,"g":6.5},{"w":7596,"r":6.5,"g":6.2},{"w":7610,"r":6.1,"g":5.5},{"w":7620,"r":6.0,"g":10.1},{"w":7630,"r":5.8,"g":5.0},{"w":7650,"r":5.7,"g":5.8},{"w":7670,"r":7.0,"g":5.5},{"w":7685,"r":8.6,"g":6.6},{"w":7695,"r":7.5,"g":15.6},{"w":7705,"r":6.8,"g":6.3},{"w":7715,"r":6.5,"g":5.1},{"w":7740,"r":5.8,"g":4.6},{"w":7770,"r":5.2,"g":4.8},{"w":7800,"r":5.0,"g":4.3},{"w":7833,"r":4.9,"g":4.2},{"w":7870,"r":5.4,"g":4.9},{"w":7900,"r":5.6,"g":4.6},{"w":7922,"r":6.2,"g":5.1},{"w":7950,"r":5.5,"g":4.5},{"w":7980,"r":5.8,"g":4.7},{"w":8010,"r":5.3,"g":4.3},{"w":8031,"r":5.45,"g":4.4},{"w":8060,"r":5.8,"g":4.6},{"w":8090,"r":5.3,"g":4.2},{"w":8120,"r":5.6,"g":4.5},{"w":8150,"r":5.0,"g":4.1},{"w":8180,"r":5.4,"g":4.4},{"w":8210,"r":5.1,"g":4.1},{"w":8229,"r":5.2,"g":4.4},{"w":8260,"r":4.9,"g":3.7},{"w":8290,"r":5.3,"g":4.3},{"w":8320,"r":4.8,"g":3.8},{"w":8350,"r":5.1,"g":4.4},{"w":8380,"r":4.7,"g":3.2},{"w":8400,"r":5.0,"g":4.6},{"w":8426,"r":4.9,"g":1.3},{"w":8445,"r":4.6,"g":4.2},{"w":8470,"r":5.1,"g":3.3},{"w":8505,"r":5.4,"g":3.9},{"w":8530,"r":4.8,"g":3.0},{"w":8560,"r":5.2,"g":4.1},{"w":8590,"r":4.6,"g":3.2},{"w":8624,"r":4.4,"g":3.5},{"w":8650,"r":5.0,"g":2.6},{"w":8680,"r":4.6,"g":3.8},{"w":8710,"r":5.2,"g":3.0},{"w":8742,"r":4.8,"g":2.3},{"w":8762,"r":6.5,"g":6.5},{"w":8780,"r":4.5,"g":3.0},{"w":8800,"r":5.4,"g":4.2},{"w":8831,"r":6.5,"g":6.0},{"w":8850,"r":4.6,"g":2.4},{"w":8880,"r":5.5,"g":4.5},{"w":8900,"r":4.8,"g":3.4},{"w":8920,"r":5.2,"g":11.2},{"w":8940,"r":4.9,"g":3.5},{"w":8970,"r":5.9,"g":3.9},{"w":8999,"r":5.0,"g":1.6},{"w":9019,"r":5.5,"g":3.8},{"w":9050,"r":4.8,"g":4.3},{"w":9080,"r":5.3,"g":3.6},{"w":9110,"r":4.6,"g":4.5},{"w":9140,"r":5.1,"g":3.9},{"w":9170,"r":4.5,"g":4.8},{"w":9187,"r":4.3,"g":5.45},{"w":9197,"r":4.2}
]
},
"vconcat":[
{"width":927,"height":251,
 "layer":[
  {"data":{"name":"p1"},"transform":[{"filter":{"field":"r","valid":true}}],"mark":{"type":"line","color":"#ff0000","strokeWidth":1.1,"clip":true},
   "encoding":{"x":{"field":"w","type":"quantitative","scale":{"domain":[3800,9300],"nice":false,"zero":false},"axis":{"orient":"bottom","values":[4000,5000,6000,7000,8000,9000],"tickSize":-24,"labels":false,"title":null}},
    "y":{"field":"r","type":"quantitative","scale":{"domain":[0,14],"nice":false},"axis":{"orient":"left","values":[0,5,10],"tickSize":-24,"labelPadding":47,"title":null}}}},
  {"data":{"name":"p1"},"transform":[{"filter":{"field":"g","valid":true}}],"mark":{"type":"line","color":"#228b22","strokeWidth":1.1,"clip":true},
   "encoding":{"x":{"field":"w","type":"quantitative","scale":{"domain":[3800,9300],"nice":false,"zero":false},"axis":{"orient":"top","values":[4000,5000,6000,7000,8000,9000],"tickSize":-24,"labels":false,"title":null}},
    "y":{"field":"g","type":"quantitative","scale":{"domain":[0,14],"nice":false},"axis":{"orient":"right","values":[0,5,10],"tickSize":-24,"labels":false,"title":null}}}},
  {"data":{"values":[{"label":["J0011","z=0.4864"]}]},"mark":{"type":"text"},
   "encoding":{"x":{"datum":8000,"type":"quantitative","scale":{"domain":[3800,9300],"nice":false,"zero":false},"axis":{"orient":"bottom","values":[3800,4000,4200,4400,4600,4800,5000,5200,5400,5600,5800,6000,6200,6400,6600,6800,7000,7200,7400,7600,7800,8000,8200,8400,8600,8800,9000,9200],"tickSize":-12,"labels":false,"title":null}},
    "y":{"datum":10.45,"type":"quantitative","scale":{"domain":[0,14],"nice":false},"axis":{"orient":"left","values":[0,1,2,3,4,5,6,7,8,9,10,11,12,13,14],"tickSize":-12,"labels":false,"title":null}},
    "text":{"field":"label"}}},
  {"data":{"values":[]},"mark":{"type":"point"},
   "encoding":{"x":{"field":"w","type":"quantitative","scale":{"domain":[3800,9300],"nice":false,"zero":false},"axis":{"orient":"top","values":[3800,4000,4200,4400,4600,4800,5000,5200,5400,5600,5800,6000,6200,6400,6600,6800,7000,7200,7400,7600,7800,8000,8200,8400,8600,8800,9000,9200],"tickSize":-12,"labels":false,"title":null}},
    "y":{"field":"r","type":"quantitative","scale":{"domain":[0,14],"nice":false},"axis":{"orient":"right","values":[0,1,2,3,4,5,6,7,8,9,10,11,12,13,14],"tickSize":-12,"labels":false,"title":null}}}}
 ],
 "resolve":{"axis":{"x":"independent","y":"independent"}}},
{"width":927,"height":251,
 "layer":[
  {"data":{"name":"p2"},"transform":[{"filter":{"field":"r","valid":true}}],"mark":{"type":"line","color":"#ff0000","strokeWidth":1.1,"clip":true},
   "encoding":{"x":{"field":"w","type":"quantitative","scale":{"domain":[3800,9300],"nice":false,"zero":false},"axis":{"orient":"bottom","values":[4000,5000,6000,7000,8000,9000],"tickSize":-24,"labels":false,"title":null}},
    "y":{"field":"r","type":"quantitative","scale":{"domain":[0,14],"nice":false},"axis":{"orient":"left","values":[0,5,10],"tickSize":-24,"labelPadding":47,"title":null}}}},
  {"data":{"name":"p2"},"transform":[{"filter":{"field":"g","valid":true}}],"mark":{"type":"line","color":"#228b22","strokeWidth":1.1,"clip":true},
   "encoding":{"x":{"field":"w","type":"quantitative","scale":{"domain":[3800,9300],"nice":false,"zero":false},"axis":{"orient":"top","values":[4000,5000,6000,7000,8000,9000],"tickSize":-24,"labels":false,"title":null}},
    "y":{"field":"g","type":"quantitative","scale":{"domain":[0,14],"nice":false},"axis":{"orient":"right","values":[0,5,10],"tickSize":-24,"labels":false,"title":null}}}},
  {"data":{"values":[{"label":["J0226","z=0.4239"]}]},"mark":{"type":"text"},
   "encoding":{"x":{"datum":8000,"type":"quantitative","scale":{"domain":[3800,9300],"nice":false,"zero":false},"axis":{"orient":"bottom","values":[3800,4000,4200,4400,4600,4800,5000,5200,5400,5600,5800,6000,6200,6400,6600,6800,7000,7200,7400,7600,7800,8000,8200,8400,8600,8800,9000,9200],"tickSize":-12,"labels":false,"title":null}},
    "y":{"datum":10.6,"type":"quantitative","scale":{"domain":[0,14],"nice":false},"axis":{"orient":"left","values":[0,1,2,3,4,5,6,7,8,9,10,11,12,13,14],"tickSize":-12,"labels":false,"title":null}},
    "text":{"field":"label"}}},
  {"data":{"values":[]},"mark":{"type":"point"},
   "encoding":{"x":{"field":"w","type":"quantitative","scale":{"domain":[3800,9300],"nice":false,"zero":false},"axis":{"orient":"top","values":[3800,4000,4200,4400,4600,4800,5000,5200,5400,5600,5800,6000,6200,6400,6600,6800,7000,7200,7400,7600,7800,8000,8200,8400,8600,8800,9000,9200],"tickSize":-12,"labels":false,"title":null}},
    "y":{"field":"r","type":"quantitative","scale":{"domain":[0,14],"nice":false},"axis":{"orient":"right","values":[0,1,2,3,4,5,6,7,8,9,10,11,12,13,14],"tickSize":-12,"labels":false,"title":null}}}}
 ],
 "resolve":{"axis":{"x":"independent","y":"independent"}}},
{"width":927,"height":251,
 "layer":[
  {"data":{"name":"p3"},"transform":[{"filter":{"field":"r","valid":true}}],"mark":{"type":"line","color":"#ff0000","strokeWidth":1.1,"clip":true},
   "encoding":{"x":{"field":"w","type":"quantitative","scale":{"domain":[3800,9300],"nice":false,"zero":false},"axis":{"orient":"bottom","values":[4000,5000,6000,7000,8000,9000],"tickSize":-24,"labels":false,"title":null}},
    "y":{"field":"r","type":"quantitative","scale":{"domain":[0,24],"nice":false},"axis":{"orient":"left","values":[0,10,20],"tickSize":-24,"labelPadding":47,"title":"fλ [10⁻¹⁷ erg/cm²/s/Å]","titlePadding":58}}}},
  {"data":{"name":"p3"},"transform":[{"filter":{"field":"g","valid":true}}],"mark":{"type":"line","color":"#228b22","strokeWidth":1.1,"clip":true},
   "encoding":{"x":{"field":"w","type":"quantitative","scale":{"domain":[3800,9300],"nice":false,"zero":false},"axis":{"orient":"top","values":[4000,5000,6000,7000,8000,9000],"tickSize":-24,"labels":false,"title":null}},
    "y":{"field":"g","type":"quantitative","scale":{"domain":[0,24],"nice":false},"axis":{"orient":"right","values":[0,10,20],"tickSize":-24,"labels":false,"title":null}}}},
  {"data":{"values":[{"label":["J0747","z=0.5011"]}]},"mark":{"type":"text","lineHeight":33},
   "encoding":{"x":{"datum":8000,"type":"quantitative","scale":{"domain":[3800,9300],"nice":false,"zero":false},"axis":{"orient":"bottom","values":[3800,4000,4200,4400,4600,4800,5000,5200,5400,5600,5800,6000,6200,6400,6600,6800,7000,7200,7400,7600,7800,8000,8200,8400,8600,8800,9000,9200],"tickSize":-12,"labels":false,"title":null}},
    "y":{"datum":19.1,"type":"quantitative","scale":{"domain":[0,24],"nice":false},"axis":{"orient":"left","values":[0,2,4,6,8,10,12,14,16,18,20,22,24],"tickSize":-12,"labels":false,"title":null}},
    "text":{"field":"label"}}},
  {"data":{"values":[]},"mark":{"type":"point"},
   "encoding":{"x":{"field":"w","type":"quantitative","scale":{"domain":[3800,9300],"nice":false,"zero":false},"axis":{"orient":"top","values":[3800,4000,4200,4400,4600,4800,5000,5200,5400,5600,5800,6000,6200,6400,6600,6800,7000,7200,7400,7600,7800,8000,8200,8400,8600,8800,9000,9200],"tickSize":-12,"labels":false,"title":null}},
    "y":{"field":"r","type":"quantitative","scale":{"domain":[0,24],"nice":false},"axis":{"orient":"right","values":[0,2,4,6,8,10,12,14,16,18,20,22,24],"tickSize":-12,"labels":false,"title":null}}}}
 ],
 "resolve":{"axis":{"x":"independent","y":"independent"}}},
{"width":927,"height":251,
 "layer":[
  {"data":{"name":"p4"},"transform":[{"filter":{"field":"r","valid":true}}],"mark":{"type":"line","color":"#ff0000","strokeWidth":1.1,"clip":true},
   "encoding":{"x":{"field":"w","type":"quantitative","scale":{"domain":[3800,9300],"nice":false,"zero":false},"axis":{"orient":"bottom","values":[4000,5000,6000,7000,8000,9000],"tickSize":-24,"labels":false,"title":null}},
    "y":{"field":"r","type":"quantitative","scale":{"domain":[0,14],"nice":false},"axis":{"orient":"left","values":[0,5,10],"tickSize":-24,"labelPadding":47,"title":null}}}},
  {"data":{"name":"p4"},"transform":[{"filter":{"field":"g","valid":true}}],"mark":{"type":"line","color":"#228b22","strokeWidth":1.1,"clip":true},
   "encoding":{"x":{"field":"w","type":"quantitative","scale":{"domain":[3800,9300],"nice":false,"zero":false},"axis":{"orient":"top","values":[4000,5000,6000,7000,8000,9000],"tickSize":-24,"labels":false,"title":null}},
    "y":{"field":"g","type":"quantitative","scale":{"domain":[0,14],"nice":false},"axis":{"orient":"right","values":[0,5,10],"tickSize":-24,"labels":false,"title":null}}}},
  {"data":{"values":[{"label":["J0818","z=0.2356"]}]},"mark":{"type":"text"},
   "encoding":{"x":{"datum":7000,"type":"quantitative","scale":{"domain":[3800,9300],"nice":false,"zero":false},"axis":{"orient":"bottom","values":[3800,4000,4200,4400,4600,4800,5000,5200,5400,5600,5800,6000,6200,6400,6600,6800,7000,7200,7400,7600,7800,8000,8200,8400,8600,8800,9000,9200],"tickSize":-12,"labels":false,"title":null}},
    "y":{"datum":10.6,"type":"quantitative","scale":{"domain":[0,14],"nice":false},"axis":{"orient":"left","values":[0,1,2,3,4,5,6,7,8,9,10,11,12,13,14],"tickSize":-12,"labels":false,"title":null}},
    "text":{"field":"label"}}},
  {"data":{"values":[]},"mark":{"type":"point"},
   "encoding":{"x":{"field":"w","type":"quantitative","scale":{"domain":[3800,9300],"nice":false,"zero":false},"axis":{"orient":"top","values":[3800,4000,4200,4400,4600,4800,5000,5200,5400,5600,5800,6000,6200,6400,6600,6800,7000,7200,7400,7600,7800,8000,8200,8400,8600,8800,9000,9200],"tickSize":-12,"labels":false,"title":null}},
    "y":{"field":"r","type":"quantitative","scale":{"domain":[0,14],"nice":false},"axis":{"orient":"right","values":[0,1,2,3,4,5,6,7,8,9,10,11,12,13,14],"tickSize":-12,"labels":false,"title":null}}}}
 ],
 "resolve":{"axis":{"x":"independent","y":"independent"}}},
{"width":927,"height":251,
 "layer":[
  {"data":{"name":"p5"},"transform":[{"filter":{"field":"r","valid":true}}],"mark":{"type":"line","color":"#ff0000","strokeWidth":1.1,"clip":true},
   "encoding":{"x":{"field":"w","type":"quantitative","scale":{"domain":[3800,9300],"nice":false,"zero":false},"axis":{"orient":"bottom","values":[4000,5000,6000,7000,8000,9000],"tickSize":-24,"labels":true,"labelPadding":38,"title":"Wavelength [Å]","titlePadding":31}},
    "y":{"field":"r","type":"quantitative","scale":{"domain":[0,39],"nice":false},"axis":{"orient":"left","values":[0,10,20,30],"tickSize":-24,"labelPadding":47,"title":null}}}},
  {"data":{"name":"p5"},"transform":[{"filter":{"field":"g","valid":true}}],"mark":{"type":"line","color":"#228b22","strokeWidth":1.1,"clip":true},
   "encoding":{"x":{"field":"w","type":"quantitative","scale":{"domain":[3800,9300],"nice":false,"zero":false},"axis":{"orient":"top","values":[4000,5000,6000,7000,8000,9000],"tickSize":-24,"labels":false,"title":null}},
    "y":{"field":"g","type":"quantitative","scale":{"domain":[0,39],"nice":false},"axis":{"orient":"right","values":[0,10,20,30],"tickSize":-24,"labels":false,"title":null}}}},
  {"data":{"values":[{"label":["J0824","z=0.5353"]}]},"mark":{"type":"text","lineHeight":36},
   "encoding":{"x":{"datum":8000,"type":"quantitative","scale":{"domain":[3800,9300],"nice":false,"zero":false},"axis":{"orient":"bottom","values":[3800,4000,4200,4400,4600,4800,5000,5200,5400,5600,5800,6000,6200,6400,6600,6800,7000,7200,7400,7600,7800,8000,8200,8400,8600,8800,9000,9200],"tickSize":-12,"labels":false,"title":null}},
    "y":{"datum":31.75,"type":"quantitative","scale":{"domain":[0,39],"nice":false},"axis":{"orient":"left","values":[0,2,4,6,8,10,12,14,16,18,20,22,24,26,28,30,32,34,36,38],"tickSize":-12,"labels":false,"title":null}},
    "text":{"field":"label"}}},
  {"data":{"values":[]},"mark":{"type":"point"},
   "encoding":{"x":{"field":"w","type":"quantitative","scale":{"domain":[3800,9300],"nice":false,"zero":false},"axis":{"orient":"top","values":[3800,4000,4200,4400,4600,4800,5000,5200,5400,5600,5800,6000,6200,6400,6600,6800,7000,7200,7400,7600,7800,8000,8200,8400,8600,8800,9000,9200],"tickSize":-12,"labels":false,"title":null}},
    "y":{"field":"r","type":"quantitative","scale":{"domain":[0,39],"nice":false},"axis":{"orient":"right","values":[0,2,4,6,8,10,12,14,16,18,20,22,24,26,28,30,32,34,36,38],"tickSize":-12,"labels":false,"title":null}}}}
 ],
 "resolve":{"axis":{"x":"independent","y":"independent"}}}
]
}
